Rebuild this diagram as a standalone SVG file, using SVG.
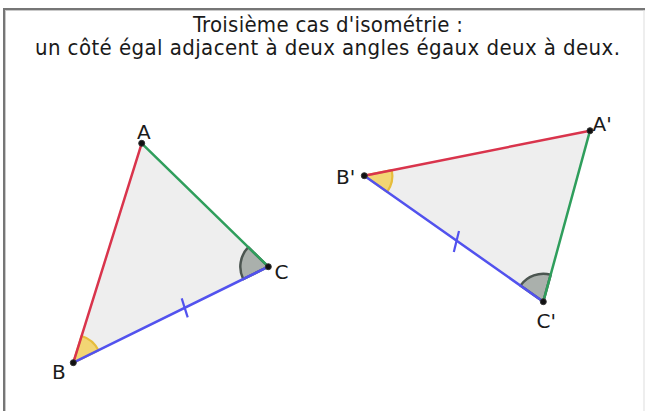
<svg xmlns="http://www.w3.org/2000/svg" width="645" height="411" viewBox="0 0 645 411">
  <defs>
    <style>
      .title { font-family: "DejaVu Sans Condensed", "DejaVu Sans", sans-serif; font-size: 22px; fill: #1a1a1a; text-anchor: middle; }
      .lbl { font-family: "DejaVu Sans", sans-serif; font-size: 20px; fill: #1a1a1a; }
      .tri { fill: #eeeeee; stroke: none; }
      .red { stroke: #d9344c; stroke-width: 2.5; fill: none; stroke-linecap: round; }
      .green { stroke: #2f9e5c; stroke-width: 2.5; fill: none; stroke-linecap: round; }
      .blue { stroke: #5252ee; stroke-width: 2.5; fill: none; stroke-linecap: round; }
      .tick { stroke: #5252ee; stroke-width: 2.2; fill: none; }
      .wy { fill: #f2d574; stroke: #e6bd3c; stroke-width: 2.2; stroke-linejoin: round; }
      .wg { fill: #aab0ac; stroke: #4c5651; stroke-width: 2.5; stroke-linejoin: round; }
      .pt { fill: #111111; stroke: #333333; stroke-width: 1; }
    </style>
  </defs>
  <rect x="0" y="0" width="645" height="411" fill="#ffffff"/>
  <g id="frame">
    <rect x="3" y="8" width="642" height="2" fill="#767676"/>
    <rect x="5" y="10" width="640" height="1" fill="#c9c9c9"/>
    <rect x="3" y="8" width="2" height="403" fill="#767676"/>
    <rect x="5" y="10" width="1" height="401" fill="#c9c9c9"/>
    <rect x="643.5" y="10" width="1" height="401" fill="#dddddd"/>
  </g>
  <g id="title">
    <text class="title" x="328" y="32" textLength="270">Troisième cas d'isométrie :</text>
    <text class="title" x="327.5" y="55" textLength="585">un côté égal adjacent à deux angles égaux deux à deux.</text>
  </g>
  <g id="triangleABC">
    <polygon class="tri" points="141.7,143.3 268.3,266.7 73.3,362.7"/>
    <path id="angleB" class="wy" d="M73.3,362.7 L81.6,336 A28,28 0 0 1 98.4,350.3 Z"/>
    <path id="angleC" class="wg" d="M268.3,266.7 L243.2,279.1 A28,28 0 0 1 248.3,247.2 Z"/>
  </g>
  <g id="connectors">
    <line class="red" x1="73.3" y1="362.7" x2="141.7" y2="143.3"/>
    <line class="green" x1="141.7" y1="143.3" x2="268.3" y2="266.7"/>
    <line class="blue" x1="73.3" y1="362.7" x2="268.3" y2="266.7"/>
    <line class="tick" x1="181.7" y1="298.3" x2="187.7" y2="317.3"/>
  </g>
  <g id="triangleA1B1C1">
    <polygon class="tri" points="590,130.7 364.3,175.7 543.3,301.7"/>
    <path id="angleB1" class="wy" d="M364.3,175.7 L391.8,170.2 A28,28 0 0 1 387.2,191.8 Z"/>
    <path id="angleC1" class="wg" d="M543.3,301.7 L520.4,285.6 A28,28 0 0 1 550.7,274.7 Z"/>
  </g>
  <g id="connectors2">
    <line class="red" x1="364.3" y1="175.7" x2="590" y2="130.7"/>
    <line class="green" x1="590" y1="130.7" x2="543.3" y2="301.7"/>
    <line class="blue" x1="364.3" y1="175.7" x2="543.3" y2="301.7"/>
    <line class="tick" x1="453.8" y1="252" x2="459" y2="231"/>
  </g>
  <g id="A"><circle class="pt" cx="141.7" cy="143.3" r="3"/><text class="lbl" x="137" y="139">A</text></g>
  <g id="B"><circle class="pt" cx="73.3" cy="362.7" r="3"/><text class="lbl" x="52" y="379">B</text></g>
  <g id="C"><circle class="pt" cx="268.3" cy="266.7" r="3"/><text class="lbl" x="274.5" y="279">C</text></g>
  <g id="A1"><circle class="pt" cx="590" cy="130.7" r="3"/><text class="lbl" x="592.5" y="131">A'</text></g>
  <g id="B1"><circle class="pt" cx="364.3" cy="175.7" r="3"/><text class="lbl" x="336" y="184">B'</text></g>
  <g id="C1"><circle class="pt" cx="543.3" cy="301.7" r="3"/><text class="lbl" x="536.5" y="328">C'</text></g>
</svg>
